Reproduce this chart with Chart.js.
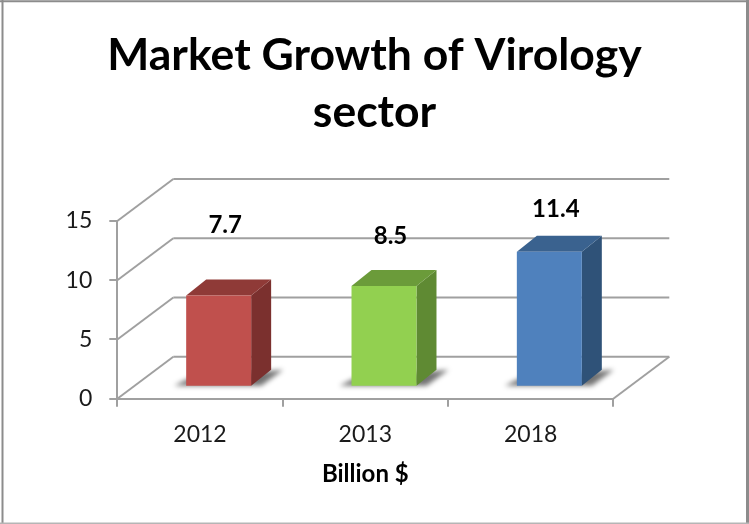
<!DOCTYPE html>
<html><head><meta charset="utf-8">
<style>html,body{margin:0;padding:0;background:#fff}canvas{display:block;filter:blur(0.4px)}</style>
<script src="https://cdn.jsdelivr.net/npm/chart.js@4"></script>
</head><body><canvas id="c" width="749" height="524"></canvas>
<script>
const categories = ["2012", "2013", "2018"];
const values = [7.7, 8.5, 11.4];
const titleLines = ["Market Growth of Virology", "sector"];
const axisName = "Billion $";

const frontColors = ["#C0504D", "#92D050", "#4F81BD"];
const sideColors = ["#7B302E", "#5F8A33", "#2F5278"];
const topColors = ["#8F3A37", "#6B9B3A", "#3A628F"];
const labelLift = [70, 50, 42];

const GRID = "#a0a0a0";
const wall = {dx: 56, dy: -42};
const barShift = {dx: 18.7, dy: -12};
const barDepth = {dx: 20, dy: -16};

function seg(ctx, a, b, c, d) { ctx.beginPath(); ctx.moveTo(a, b); ctx.lineTo(c, d); ctx.stroke(); }
function poly(ctx, pts, fill) {
  ctx.beginPath(); pts.forEach((p, i) => i ? ctx.lineTo(p[0], p[1]) : ctx.moveTo(p[0], p[1]));
  ctx.closePath(); ctx.fillStyle = fill; ctx.fill();
}

const scene = {
  id: "scene",
  beforeDraw(chart) {
    const c = chart.ctx;
    c.save();
    c.fillStyle = "#fff"; c.fillRect(0, 0, 749, 524);
    c.strokeStyle = "#8c8c8c"; c.lineWidth = 2;
    seg(c, 2.5, 0, 2.5, 524); seg(c, 0, 1.2, 749, 1.2);
    c.lineWidth = 3; seg(c, 747.5, 0, 747.5, 524);
    c.strokeStyle = "#b5b5b5"; c.lineWidth = 1.5; seg(c, 0, 523.3, 749, 523.3);
    c.restore();
  },
  beforeDatasetsDraw(chart) {
    const c = chart.ctx, a = chart.chartArea, y = chart.scales.y;
    c.save();
    c.strokeStyle = GRID; c.lineWidth = 2;
    y.ticks.forEach(t => {
      const p = y.getPixelForValue(t.value);
      seg(c, a.left, p, a.left + wall.dx, p + wall.dy);
      seg(c, a.left + wall.dx, p + wall.dy, a.right + wall.dx, p + wall.dy);
    });
    const b = y.getPixelForValue(0);
    seg(c, a.right, b, a.right + wall.dx, b + wall.dy);
    const bars = chart.getDatasetMeta(0).data;
    bars.forEach((el, i) => {
      const L = el.x - el.width / 2 + barShift.dx, R = el.x + el.width / 2 + barShift.dx;
      const T = el.y + barShift.dy, B = el.base + barShift.dy;
      c.save();
      c.filter = "blur(2.5px)";
      poly(c, [[L - 12, B], [L + 2, B - 7], [R + barDepth.dx + 12, B + barDepth.dy], [R + 10, B]], "rgba(0,0,0,0.55)");
      c.restore();
      poly(c, [[R, T], [R + barDepth.dx, T + barDepth.dy], [R + barDepth.dx, B + barDepth.dy], [R, B]], sideColors[i]);
      poly(c, [[L, T], [L + barDepth.dx, T + barDepth.dy], [R + barDepth.dx, T + barDepth.dy], [R, T]], topColors[i]);
    });
    c.restore();
    c.save();
    c.translate(barShift.dx, barShift.dy);
  },
  afterDatasetsDraw(chart) {
    const c = chart.ctx;
    c.restore();
    c.save();
    c.font = "bold 24px Lato";
    c.fillStyle = "#000";
    c.textAlign = "center"; c.textBaseline = "middle";
    chart.getDatasetMeta(0).data.forEach((el, i) => {
      c.fillText(String(values[i]), el.x + barShift.dx + 6.5, el.y + barShift.dy - labelLift[i]);
    });
    c.restore();
  }
};

new Chart(document.getElementById("c"), {
  type: "bar",
  plugins: [scene],
  data: {
    labels: categories,
    datasets: [{
      data: values,
      yAxisID: "y",
      backgroundColor: frontColors,
      barPercentage: 0.393,
      categoryPercentage: 1,
      clip: false
    }]
  },
  options: {
    responsive: false,
    animation: false,
    devicePixelRatio: 1,
    layout: {padding: 0},
    plugins: {
      legend: {display: false},
      tooltip: {enabled: false},
      title: {
        display: true,
        text: titleLines,
        color: "#000",
        font: {family: "Lato", weight: "bold", size: 44.5, lineHeight: 1.281},
        padding: {top: 27, bottom: 80}
      }
    },
    scales: {
      x: {
        grid: {drawOnChartArea: false, drawTicks: true, tickLength: 8, color: GRID, lineWidth: 2},
        border: {color: GRID, width: 2},
        ticks: {color: "#1a1a1a", font: {family: "Lato", size: 23}, padding: 14, maxRotation: 0},
        title: {display: true, text: axisName, color: "#000", font: {family: "Lato", weight: "bold", size: 24}, padding: {top: 0, bottom: 35}},
        afterFit(s) { s.height = 125.3; }
      },
      y: {
        min: 0, max: 15,
        grid: {drawOnChartArea: false, drawTicks: true, tickLength: 8, color: GRID, lineWidth: 2},
        border: {color: GRID, width: 2},
        ticks: {stepSize: 5, color: "#1a1a1a", font: {family: "Lato", size: 23}, padding: 17},
        afterFit(s) { s.width = 117.3; }
      },
      spacer: {
        position: "right",
        display: true,
        grid: {display: false},
        border: {display: false},
        ticks: {display: false},
        afterFit(s) { s.width = 135.7; }
      }
    }
  }
});
</script></body></html>
